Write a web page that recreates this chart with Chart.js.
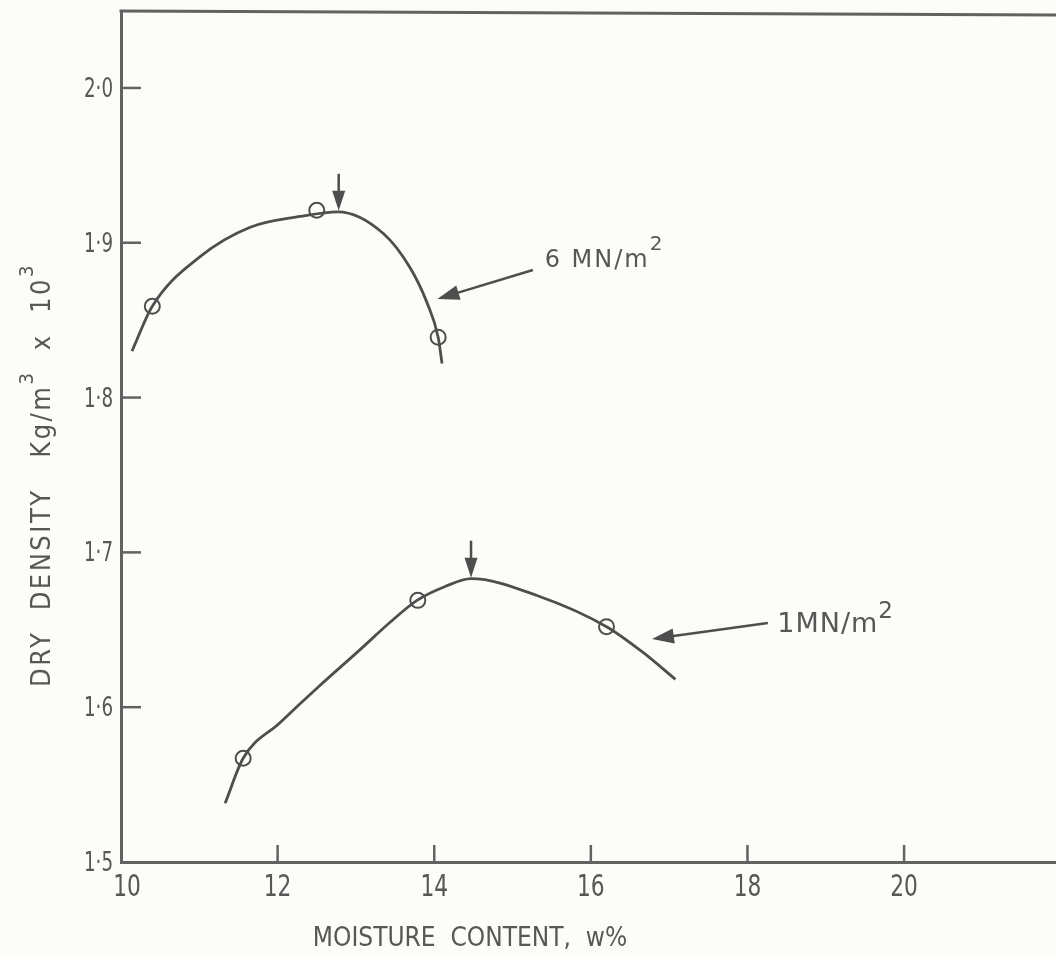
<!DOCTYPE html>
<html>
<head>
<meta charset="utf-8">
<script src="https://cdn.jsdelivr.net/npm/chart.js@4.4.1/dist/chart.umd.min.js"></script>
<style>
  html, body { margin: 0; padding: 0; background: #fcfcf8; }
  canvas { display: block; }
</style>
</head>
<body>
<canvas id="compaction" width="1056" height="958"></canvas>
<script>
// axis ticks: moisture content (w%) and dry density (Kg/m3 x 10^3)
const xTicks = [10, 12, 14, 16, 18, 20];
const yTicks = [1.5, 1.6, 1.7, 1.8, 1.9, 2.0];

// 6 MN/m2 compaction: test results and the drawn curve
const testW6 = [10.4, 12.5, 14.05];
const testD6 = [1.859, 1.921, 1.839];
const curveW6 = [10.14, 10.4, 11.01, 11.65, 12.29, 12.77, 13.35, 13.69, 13.91, 14.05, 14.1];
const curveD6 = [1.830, 1.859, 1.891, 1.910, 1.917, 1.920, 1.906, 1.884, 1.861, 1.839, 1.822];

// 1 MN/m2 compaction
const testW1 = [11.56, 13.79, 16.2];
const testD1 = [1.567, 1.669, 1.652];
const curveW1 = [11.33, 11.56, 12.03, 12.54, 13.05, 13.44, 13.78, 14.14, 14.47, 15.32, 16.2, 16.65, 17.08];
const curveD1 = [1.538, 1.567, 1.590, 1.614, 1.637, 1.655, 1.669, 1.678, 1.683, 1.672, 1.652, 1.636, 1.618];

// optimum moisture content / maximum dry density (down arrows)
const optW = [12.78, 14.47];
const optD = [1.92, 1.683];

// pressure labels with their pointer arrows
const labelText = ['6 MN/m', '1MN/m'];
const labelW = [15.41, 18.38];
const labelD = [1.8844, 1.6486];
const pointerFromW = [15.26, 18.26];
const pointerFromD = [1.8824, 1.6544];
const pointerToW = [14.04, 16.78];
const pointerToD = [1.8637, 1.644];

const ink = '#4e4e4e';
const axisInk = '#626262';
const textInk = '#575757';
const cond = '"DejaVu Sans Condensed", "DejaVu Sans", sans-serif';
const wide = '"DejaVu Sans", sans-serif';

const pts = (xs, ys) => xs.map((x, i) => ({ x: x, y: ys[i] }));

function arrow(ctx, x1, y1, x2, y2, head, half) {
    const a = Math.atan2(y2 - y1, x2 - x1);
    const bx = x2 - head * Math.cos(a);
    const by = y2 - head * Math.sin(a);
    ctx.beginPath();
    ctx.moveTo(x1, y1);
    ctx.lineTo(bx + Math.cos(a) * 2, by + Math.sin(a) * 2);
    ctx.stroke();
    ctx.beginPath();
    ctx.moveTo(x2, y2);
    ctx.lineTo(bx + half * Math.sin(a), by - half * Math.cos(a));
    ctx.lineTo(bx - half * Math.sin(a), by + half * Math.cos(a));
    ctx.closePath();
    ctx.fill();
}

// narrow stencil-like numerals: squeeze the glyphs horizontally
function squeezed(ctx, text, x, y, size, squeeze, align) {
    ctx.save();
    ctx.font = size + 'px ' + cond;
    ctx.translate(x, y);
    ctx.scale(squeeze, 1);
    ctx.textAlign = align;
    ctx.fillText(text, 0, 0);
    ctx.restore();
}

const extras = {
    id: 'extras',
    afterDraw(chart) {
        const { ctx, chartArea } = chart;
        const xs = chart.scales.x;
        const ys = chart.scales.y;
        ctx.save();

        // frame line along the top
        ctx.strokeStyle = axisInk;
        ctx.lineWidth = 3;
        ctx.beginPath();
        ctx.moveTo(chartArea.left - 1.5, 11);
        ctx.lineTo(1056, 15);
        ctx.stroke();

        // inward tick marks
        ctx.lineWidth = 2.5;
        yTicks.slice(1).forEach(v => {
            const p = ys.getPixelForValue(v);
            ctx.beginPath();
            ctx.moveTo(chartArea.left, p);
            ctx.lineTo(chartArea.left + 20, p);
            ctx.stroke();
        });
        xTicks.slice(1).forEach(v => {
            const p = xs.getPixelForValue(v);
            ctx.beginPath();
            ctx.moveTo(p, chartArea.bottom);
            ctx.lineTo(p, chartArea.bottom - 17);
            ctx.stroke();
        });

        // tick labels
        ctx.fillStyle = textInk;
        ctx.textBaseline = 'alphabetic';
        yTicks.forEach(v => {
            const p = ys.getPixelForValue(v);
            squeezed(ctx, v.toFixed(1).replace('.', '·'), chartArea.left - 8, p + 9, 26, 0.78, 'right');
        });
        xTicks.forEach(v => {
            const p = xs.getPixelForValue(v);
            squeezed(ctx, String(v), p + (v === 10 ? 6 : 0), chartArea.bottom + 34, 31, 0.78, 'center');
        });

        // optimum arrows
        ctx.strokeStyle = ink;
        ctx.fillStyle = ink;
        ctx.lineWidth = 2.5;
        optW.forEach((w, i) => {
            const px = xs.getPixelForValue(w);
            const py = ys.getPixelForValue(optD[i]);
            arrow(ctx, px, py - 38, px, py - 1, 20, 6.5);
        });

        // pressure labels
        const sizes = [24, 27];
        const supSizes = [20, 23];
        const rise = [17, 14];
        const spacing = ['2px', '1px'];
        labelText.forEach((t, i) => {
            ctx.fillStyle = ink;
            arrow(ctx,
                xs.getPixelForValue(pointerFromW[i]), ys.getPixelForValue(pointerFromD[i]),
                xs.getPixelForValue(pointerToW[i]), ys.getPixelForValue(pointerToD[i]), 22, 7.5);
            const x = xs.getPixelForValue(labelW[i]);
            const y = ys.getPixelForValue(labelD[i]);
            ctx.fillStyle = textInk;
            ctx.textAlign = 'left';
            ctx.letterSpacing = spacing[i];
            ctx.font = sizes[i] + 'px ' + wide;
            ctx.fillText(t, x, y);
            const w = ctx.measureText(t).width;
            ctx.font = supSizes[i] + 'px ' + wide;
            ctx.fillText('2', x + w, y - rise[i]);
            ctx.letterSpacing = '0px';
        });

        // axis titles
        ctx.fillStyle = textInk;
        ctx.textAlign = 'center';
        ctx.font = '26px ' + cond;
        ctx.fillText('MOISTURE  CONTENT,  w%', 470, 946);

        ctx.translate(50, 475);
        ctx.rotate(-Math.PI / 2);
        ctx.textAlign = 'left';
        ctx.letterSpacing = '2.5px';
        const parts = [['DRY  DENSITY   Kg/m', 0], ['3', 1], ['  x  10', 0], ['3', 1]];
        const fontFor = sup => (sup ? 20 : 27) + 'px ' + cond;
        let total = 0;
        parts.forEach(([s, sup]) => {
            ctx.font = fontFor(sup);
            total += ctx.measureText(s).width;
        });
        let x = -total / 2;
        parts.forEach(([s, sup]) => {
            ctx.font = fontFor(sup);
            ctx.fillText(s, x, sup ? -17 : 0);
            x += ctx.measureText(s).width;
        });
        ctx.restore();
    }
};

// drop the automatic label overhang so the plot area sits at the frame edges
function noOverhang(s) {
    s.paddingTop = 0;
    s.paddingBottom = 0;
    s.paddingLeft = 0;
    s.paddingRight = 0;
}

new Chart(document.getElementById('compaction'), {
    type: 'scatter',
    data: {
        datasets: [
            {
                label: '6 MN/m2 curve',
                data: pts(curveW6, curveD6),
                showLine: true,
                borderColor: ink,
                borderWidth: 2.8,
                pointRadius: 0,
                cubicInterpolationMode: 'monotone'
            },
            {
                label: '6 MN/m2 tests',
                data: pts(testW6, testD6),
                pointRadius: 7.5,
                borderColor: ink,
                borderWidth: 2,
                backgroundColor: 'rgba(0,0,0,0)'
            },
            {
                label: '1 MN/m2 curve',
                data: pts(curveW1, curveD1),
                showLine: true,
                borderColor: ink,
                borderWidth: 2.8,
                pointRadius: 0,
                cubicInterpolationMode: 'monotone'
            },
            {
                label: '1 MN/m2 tests',
                data: pts(testW1, testD1),
                pointRadius: 7.5,
                borderColor: ink,
                borderWidth: 2,
                backgroundColor: 'rgba(0,0,0,0)'
            }
        ]
    },
    options: {
        responsive: false,
        animation: false,
        devicePixelRatio: 1,
        layout: { autoPadding: false, padding: { top: 11, right: 0, bottom: 0, left: 0 } },
        plugins: {
            legend: { display: false },
            tooltip: { enabled: false }
        },
        scales: {
            x: {
                type: 'linear',
                min: 10,
                max: 21.94,
                afterFit: s => { s.height = 96; noOverhang(s); },
                afterBuildTicks: s => { s.ticks = xTicks.map(v => ({ value: v })); },
                grid: { display: false },
                border: { color: axisInk, width: 3 },
                ticks: { display: false }
            },
            y: {
                type: 'linear',
                min: 1.5,
                max: 2.0497,
                afterFit: s => { s.width = 121; noOverhang(s); },
                afterBuildTicks: s => { s.ticks = yTicks.map(v => ({ value: v })); },
                grid: { display: false },
                border: { color: axisInk, width: 3 },
                ticks: { display: false }
            }
        }
    },
    plugins: [extras]
});
</script>
</body>
</html>
